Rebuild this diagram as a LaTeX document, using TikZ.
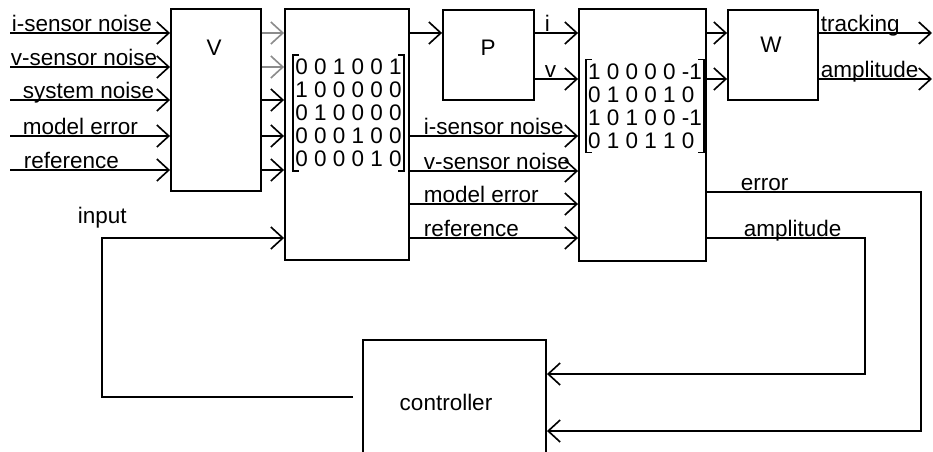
\documentclass[tikz,border=0pt]{standalone}
\usepackage{fontspec}
\setmainfont{Liberation Sans}
\usetikzlibrary{arrows.meta,positioning}

\tikzset{
  blk/.style={draw, line width=1.6pt, inner sep=0pt},
  lnk/.style={line width=1.4pt, -{Straight Barb[length=0.36cm,width=0.66cm]}},
  lbl/.style={inner sep=0pt, anchor=base west, yshift=0.045cm},
  brk/.style={line width=1.4pt},
  mat/.style={align=left, inner xsep=0.06cm, inner ysep=0.12cm}
}

\begin{document}
\begin{tikzpicture}[x=0.03cm, y=-0.03cm, font=\fontsize{19.2}{19.6}\selectfont]
\useasboundingbox (0,0) rectangle (933,451);
\clip (0,0) rectangle (933,451);

% blocks
\node[blk, minimum width=2.7cm, minimum height=5.46cm] (V) at (216,100) {};
\node[blk, minimum width=3.72cm, minimum height=7.53cm] (S1) at (347,134.5) {};
\node[blk, minimum width=2.73cm, minimum height=2.7cm] (P) at (488.5,55) {};
\node[blk, minimum width=3.81cm, minimum height=7.56cm] (S2) at (642.5,135) {};
\node[blk, minimum width=2.7cm, minimum height=2.7cm] (W) at (773,55) {};
\node[blk, minimum width=5.49cm, minimum height=3.72cm] (K) at (454.5,402) {};

\node (Vlbl) at (214,48) {V};
\node (Plbl) at (488,48) {P};
\node (Wlbl) at (771,45) {W};
\node (Klbl) at (446,402) {controller};

% matrices
\node[mat] (s1m) at (348.5,113) {0 0 1 0 0 1\\1 0 0 0 0 0\\0 1 0 0 0 0\\0 0 0 1 0 0\\0 0 0 0 1 0};
\node[mat] (s2m) at (645,106) {1 0 0 0 0 -1\\0 1 0 0 1 0\\1 0 1 0 0 -1\\0 1 0 1 1 0};
\foreach \m in {s1m,s2m} {
  \draw[brk] (\m.north west) ++(6,0) -| (\m.south west) -- ++(6,0);
  \draw[brk] (\m.north east) ++(-6,0) -| (\m.south east) -- ++(-6,0);
}

% inputs to V
\foreach \yy/\tt/\dx [count=\i] in {33/i-sensor noise/0.03, 67/v-sensor noise/0,
    100/system noise/0.36, 136/model error/0.36, 170/reference/0.39} {
  \coordinate (in\i) at (10,\yy);
  \draw[lnk] (in\i) -- node[lbl, pos=0, xshift=\dx cm] {\tt} (in\i -| V.west);
}

% V to first matrix
\foreach \yy in {33,67}
  \draw[lnk, black!45] (V.east |- 0,\yy) -- (S1.west |- 0,\yy);
\foreach \yy in {100,136,170}
  \draw[lnk] (V.east |- 0,\yy) -- (S1.west |- 0,\yy);

% first matrix to P and second matrix
\draw[lnk] (S1.east |- 0,33) -- (P.west |- 0,33);
\foreach \yy/\tt in {136/i-sensor noise, 171/v-sensor noise, 204/model error, 238/reference}
  \draw[lnk] (S1.east |- 0,\yy) -- node[lbl, pos=0, xshift=0.39cm] {\tt} (S2.west |- 0,\yy);

% plant outputs
\draw[lnk] (P.east |- 0,33) -- node[lbl, pos=0, xshift=0.27cm] {i} (S2.west |- 0,33);
\draw[lnk] (P.east |- 0,79) -- node[lbl, pos=0, xshift=0.27cm] {v} (S2.west |- 0,79);

% second matrix to W
\draw[lnk] (S2.east |- 0,33) -- (W.west |- 0,33);
\draw[lnk] (S2.east |- 0,79) -- (W.west |- 0,79);

% W outputs
\coordinate (trk) at (932,33);
\coordinate (amp) at (932,79);
\draw[lnk] (W.east |- trk) -- node[lbl, pos=0, xshift=0.03cm] {tracking} (trk);
\draw[lnk] (W.east |- amp) -- node[lbl, pos=0, xshift=0.03cm] {amplitude} (amp);

% feedback to controller
\draw[lnk] (S2.east |- 0,192) -- node[lbl, pos=0, xshift=0.99cm] {error} (921,192) |- (K.east |- 0,431);
\draw[lnk] (S2.east |- 0,238) -- node[lbl, pos=0, xshift=1.08cm] {amplitude} (865,238) |- (K.east |- 0,374);

% controller output
\coordinate (cout) at (353,397);
\draw[lnk] (cout) -| (102,238) node[lbl, xshift=-0.75cm, yshift=0.39cm] {input} -- (S1.west |- 0,238);

\end{tikzpicture}
\end{document}
